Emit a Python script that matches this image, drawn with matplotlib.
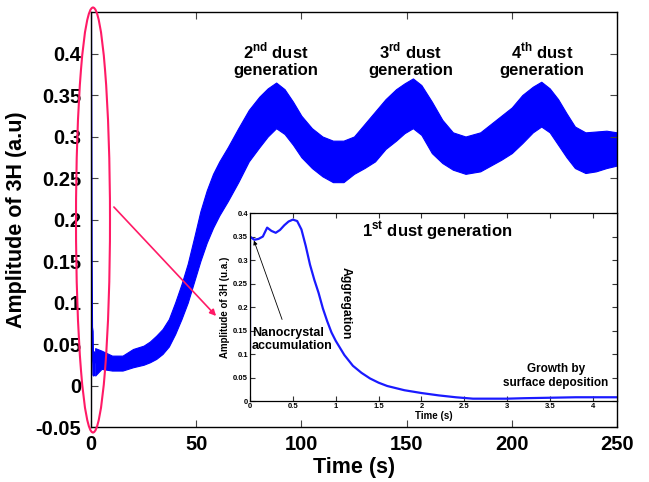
import matplotlib
matplotlib.use('Agg')
import matplotlib.pyplot as plt
from matplotlib.patches import Ellipse, FancyArrowPatch
from matplotlib.ticker import FuncFormatter

plt.rcParams['font.family'] = ['Liberation Sans', 'DejaVu Sans']
plt.rcParams['font.weight'] = 'bold'
plt.rcParams['mathtext.fontset'] = 'custom'
plt.rcParams['mathtext.rm'] = 'Liberation Sans:bold'
plt.rcParams['mathtext.bf'] = 'Liberation Sans:bold'

# Start-up transient of the 3H amplitude (first seconds)
start_t = [0.0, 0.0, 0.3, 0.5, 0.8, 1.0, 1.3, 1.6, 2.0]
start_v = [-0.03, 0.45, 0.16, 0.07, 0.065, 0.03, 0.012, 0.04, 0.028]

# Long-run signal: lower / upper envelope of the noisy band
band_t = [2, 5, 10, 15, 20, 25, 28, 31, 34, 37, 40, 43, 46, 49, 52, 55, 58,
          61, 65, 70, 75, 80, 84, 88, 92, 96, 100, 105, 110, 115, 120, 125,
          130, 135, 140, 145, 149, 153, 157, 162, 167, 172, 178, 185, 190, 195,
          200, 205, 210, 214, 218, 222, 226, 230, 235, 240, 245, 250]
band_lo = [0.012, 0.02, 0.018, 0.018, 0.022, 0.025, 0.028, 0.032, 0.038,
           0.047, 0.062, 0.08, 0.1, 0.125, 0.15, 0.172, 0.19, 0.205, 0.222,
           0.245, 0.27, 0.287, 0.3, 0.31, 0.303, 0.29, 0.275, 0.262, 0.252,
           0.245, 0.245, 0.255, 0.262, 0.27, 0.285, 0.295, 0.304, 0.31, 0.302,
           0.28, 0.268, 0.26, 0.255, 0.258, 0.265, 0.272, 0.28, 0.292, 0.305,
           0.312, 0.305, 0.29, 0.275, 0.262, 0.256, 0.258, 0.262, 0.265]
band_hi = [0.045, 0.042, 0.036, 0.036, 0.044, 0.048, 0.053, 0.06, 0.068, 0.08,
           0.1, 0.122, 0.147, 0.178, 0.21, 0.235, 0.255, 0.27, 0.287, 0.31,
           0.332, 0.348, 0.358, 0.365, 0.357, 0.342, 0.325, 0.31, 0.3, 0.295,
           0.295, 0.3, 0.315, 0.33, 0.345, 0.357, 0.364, 0.37, 0.362, 0.342,
           0.32, 0.305, 0.3, 0.305, 0.315, 0.325, 0.335, 0.35, 0.36, 0.366,
           0.358, 0.345, 0.328, 0.312, 0.305, 0.306, 0.307, 0.305]

# First dust generation (zoom on the first seconds)
gen1_t = [0.0, 0.0, 0.05, 0.1, 0.15, 0.2, 0.25, 0.3, 0.35, 0.4, 0.45, 0.5,
          0.55, 0.6, 0.65, 0.7, 0.75, 0.8, 0.85, 0.9, 0.95, 1.0, 1.1, 1.2, 1.3,
          1.4, 1.5, 1.6, 1.8, 2.0, 2.2, 2.4, 2.6, 2.8, 3.0, 3.2, 3.5, 3.8, 4.3]
gen1_v = [0.11, 0.35, 0.343, 0.345, 0.35, 0.369, 0.362, 0.358, 0.364, 0.374,
          0.382, 0.386, 0.383, 0.365, 0.33, 0.29, 0.258, 0.23, 0.197, 0.17,
          0.146, 0.128, 0.098, 0.075, 0.06, 0.048, 0.039, 0.032, 0.023, 0.017,
          0.012, 0.008, 0.005, 0.005, 0.005, 0.006, 0.007, 0.008, 0.008]

main_yticks = [-0.05, 0, 0.05, 0.1, 0.15, 0.2, 0.25, 0.3, 0.35, 0.4]
main_xticks = [0, 50, 100, 150, 200, 250]
inset_xticks = [0, 0.5, 1, 1.5, 2, 2.5, 3, 3.5, 4]
inset_yticks = [0, 0.05, 0.1, 0.15, 0.2, 0.25, 0.3, 0.35, 0.4]

blue = '#0000ff'
pink = '#ff1a66'

fig = plt.figure(figsize=(6.49, 4.82), dpi=100)
ax = fig.add_axes([0.1402, 0.1141, 0.8105, 0.861])

ax.fill_between(band_t, band_lo, band_hi, color=blue, linewidth=0.8, edgecolor=blue)
ax.plot(start_t, start_v, color=blue, linewidth=1.5)

ax.set_xlim(0, 250)
ax.set_ylim(-0.05, 0.45)
ax.set_xticks(main_xticks)
ax.set_yticks(main_yticks)
fmt = FuncFormatter(lambda v, pos: '%g' % round(v, 3))
ax.yaxis.set_major_formatter(fmt)
ax.tick_params(direction='in', top=True, right=True, length=5, width=0.8,
               labelsize=14.5, color='#444444')
ax.tick_params(axis='x', pad=6)
ax.tick_params(axis='y', pad=7)
ax.set_xlabel('Time (s)', fontsize=15.5, fontweight='bold', labelpad=2)
ax.set_ylabel('Amplitude of 3H (a.u)', fontsize=15.5, fontweight='bold', labelpad=6)
for s in ax.spines.values():
    s.set_linewidth(1.0)

gen_kw = dict(ha='center', va='center', fontsize=12, fontweight='bold',
              linespacing=1.1)
ax.text(88, 0.393, '2$^{\\mathbf{nd}}$ dust\ngeneration', **gen_kw)
ax.text(152, 0.393, '3$^{\\mathbf{rd}}$ dust\ngeneration', **gen_kw)
ax.text(214.5, 0.393, '4$^{\\mathbf{th}}$ dust\ngeneration', **gen_kw)

# Inset with the first dust generation
ins = fig.add_axes([0.3852, 0.168, 0.5655, 0.39])
ins.plot(gen1_t, gen1_v, color='#1a1aff', linewidth=1.6)
ins.set_xlim(0, 4.28)
ins.set_ylim(0, 0.4)
ins.set_xticks(inset_xticks)
ins.set_yticks(inset_yticks)
ins.xaxis.set_major_formatter(fmt)
ins.yaxis.set_major_formatter(fmt)
ins.tick_params(direction='in', top=True, right=True, length=3.5, width=0.8,
                labelsize=5.5, pad=1.5, color='#333333')
ins.set_xlabel('Time (s)', fontsize=7, fontweight='bold', labelpad=0.5)
ins.set_ylabel('Amplitude of 3H (u.a.)', fontsize=7, fontweight='bold', labelpad=2)
for s in ins.spines.values():
    s.set_linewidth(0.9)

ins.text(2.18, 0.362, '1$^{\\mathbf{st}}$ dust generation', ha='center',
         va='center', fontsize=12, fontweight='bold')
ins.text(0.02, 0.13, 'Nanocrystal\naccumulation', ha='left', va='center',
         fontsize=9, fontweight='bold', linespacing=1.1)
ins.annotate('', xy=(0.035, 0.347), xytext=(0.385, 0.168),
             arrowprops=dict(arrowstyle='-|>', color='black', lw=0.6,
                             mutation_scale=6))
ins.text(1.12, 0.208, 'Aggregation', rotation=-90, ha='center', va='center',
         fontsize=8.8, fontweight='bold')
ins.text(3.57, 0.053, 'Growth by\nsurface deposition', ha='center', va='center',
         fontsize=8.5, fontweight='bold', linespacing=1.15)

# Highlight of the start-up region and pointer to the inset
ell = Ellipse((93 / 649, 1 - 220 / 482), 34 / 649, 425 / 482,
              transform=fig.transFigure, fill=False, edgecolor=pink,
              linewidth=1.5, clip_on=False)
fig.add_artist(ell)
arr = FancyArrowPatch((112 / 649, 1 - 205 / 482), (218 / 649, 1 - 318 / 482),
                      transform=fig.transFigure, arrowstyle='-|>',
                      mutation_scale=9, color=pink, linewidth=1.2)
fig.add_artist(arr)

plt.savefig('out.png', dpi=100)
